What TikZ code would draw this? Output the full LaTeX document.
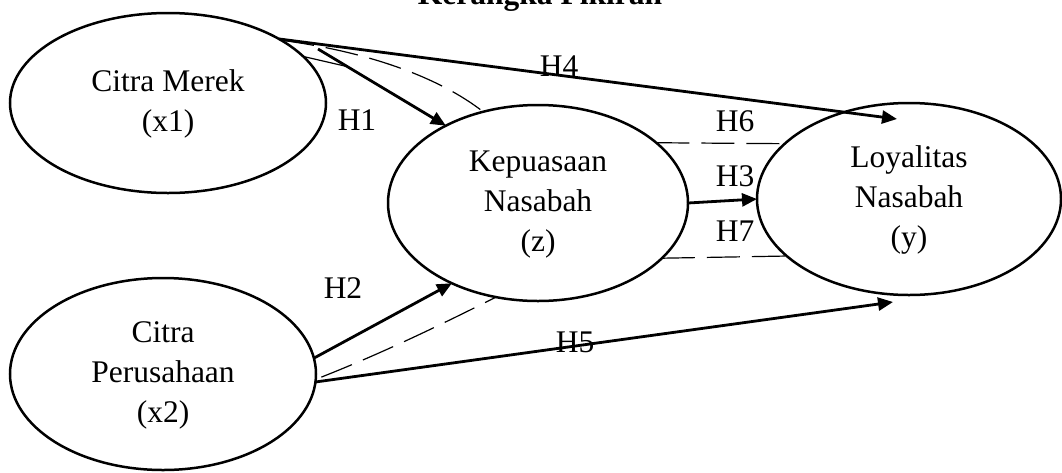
\documentclass[tikz,border=0pt]{standalone}
\usepackage{fontspec}
\setmainfont{Liberation Serif}
\usetikzlibrary{shapes.geometric,arrows.meta,calc}

% centred lines of a construct, lowered a little inside its ellipse
\newcommand\celltext[2]{\raisebox{#1}{\begin{tabular}{@{}c@{}}#2\end{tabular}}}

\begin{document}
\begin{tikzpicture}[x=1pt,y=-1pt,
  construct/.style={ellipse,draw,line width=2.5pt,inner sep=0pt,outer sep=0pt,
    font=\fontsize{31.5}{40}\selectfont},
  hlabel/.style={inner sep=0pt,font=\fontsize{31.5}{40}\selectfont},
  effect/.style={line width=2.8pt,-{Triangle[length=15pt,width=13pt]}},
  indirect/.style={line width=1.2pt,dash pattern=on 33pt off 12pt},
  hairline/.style={line width=1.2pt},
]
\useasboundingbox (0,0) rectangle (1062,472);

% title
\node[anchor=base,inner sep=0pt,font=\bfseries\fontsize{31.5}{40}\selectfont] (title) at (540,4) {Kerangka Pikiran};

% constructs
\node[construct,minimum width=316pt,minimum height=180pt] (x1) at (168,103) {\celltext{-4pt}{Citra Merek\\(x1)}};
\node[construct,minimum width=306pt,minimum height=192pt] (x2) at (163,374) {\celltext{0pt}{Citra\\Perusahaan\\(x2)}};
\node[construct,minimum width=300pt,minimum height=196pt] (z) at (538,203) {\celltext{-6pt}{Kepuasaan\\Nasabah\\(z)}};
\node[construct,minimum width=304pt,minimum height=192pt] (y) at (909,199) {\celltext{-6pt}{Loyalitas\\Nasabah\\(y)}};

% free ends of the direct paths
\coordinate (h1s) at (318,49);
\coordinate (h4e) at (897,119);
\coordinate (h5e) at (893,302);

% direct effects
\draw[effect] (x1.30) -- (h4e);
\draw[effect] (h1s) -- (z.140);
\draw[effect] (x2.6) -- (z.223);
\draw[effect] (x2.-3) -- (h5e);
\draw[effect] (z.east) -- (y.west);

% indirect (mediated) paths
\draw[indirect] (x1.29) .. controls (370,52) and (440,78) .. (z.121);
\draw[hairline] (x1.19) -- ($(h1s)!0.23!(z.140)$);
\draw[indirect,shorten <=6pt] (x2.-2) .. controls (390,350) and (450,320) .. (z.246);
\draw[indirect] (z.27) -- (y.156);
\draw[indirect] (z.-24) -- (y.205);

% hypothesis labels
\node[hlabel] (H1) at (357,120) {H1};
\node[hlabel] (H2) at (343,288) {H2};
\node[hlabel] (H3) at (735,176) {H3};
\node[hlabel] (H4) at (559,66) {H4};
\node[hlabel] (H5) at (575,342) {H5};
\node[hlabel] (H6) at (735,121) {H6};
\node[hlabel] (H7) at (735,231) {H7};
\end{tikzpicture}
\end{document}
